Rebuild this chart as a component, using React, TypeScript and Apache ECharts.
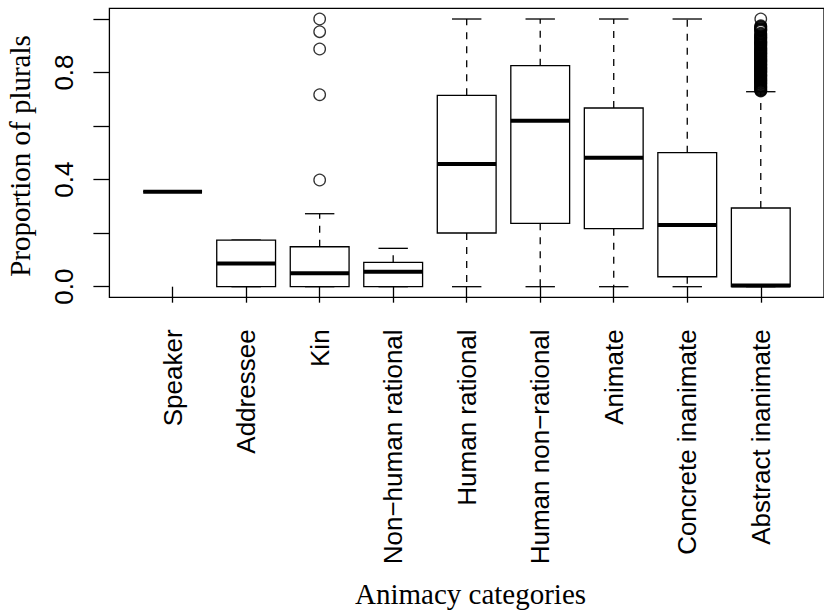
import React, { useEffect, useRef } from "react";
import * as echarts from "echarts";

const categories = [
  "Speaker",
  "Addressee",
  "Kin",
  "Non\u2212human rational",
  "Human rational",
  "Human non\u2212rational",
  "Animate",
  "Concrete inanimate",
  "Abstract inanimate",
];
const whiskerLow = [0.355, 0, 0, 0, 0, 0, 0, 0, 0];
const q1 = [0.355, 0, 0, 0, 0.2005, 0.2367, 0.2166, 0.0372, 0];
const median = [0.355, 0.087, 0.05, 0.0559, 0.4583, 0.62, 0.4818, 0.2304, 0.004];
const q3 = [0.355, 0.1743, 0.1493, 0.091, 0.715, 0.8255, 0.6675, 0.5005, 0.2939];
const whiskerHigh = [0.355, 0.1743, 0.2726, 0.1433, 1, 1, 1, 1, 0.7284];

const kinOutliers = [1.0, 0.9526, 0.888, 0.7172, 0.3986];
const abstractOutliers = [
  0.731, 0.733, 0.735, 0.737, 0.74, 0.742, 0.745, 0.747, 0.75, 0.752, 0.755,
  0.758, 0.76, 0.762, 0.765, 0.767, 0.769, 0.771, 0.773, 0.776, 0.778, 0.781,
  0.783, 0.786, 0.788, 0.79, 0.792, 0.794, 0.797, 0.8, 0.802, 0.804, 0.806,
  0.808, 0.81, 0.812, 0.814, 0.816, 0.818, 0.82, 0.822, 0.825, 0.827, 0.829,
  0.831, 0.833, 0.836, 0.838, 0.84, 0.842, 0.844, 0.846, 0.848, 0.85, 0.852,
  0.854, 0.857, 0.86, 0.862, 0.864, 0.867, 0.869, 0.871, 0.873, 0.875, 0.878,
  0.88, 0.882, 0.884, 0.886, 0.889, 0.891, 0.893, 0.896, 0.9, 0.902, 0.905,
  0.907, 0.909, 0.911, 0.913, 0.915, 0.917, 0.92, 0.923, 0.926, 0.929, 0.931,
  0.933, 0.936, 0.938, 0.941, 0.944, 0.947, 0.955, 0.958, 0.96, 0.962, 0.964,
  0.967, 0.97, 0.972, 0.975, 1.0,
];

const yTicks = [0, 0.2, 0.4, 0.6, 0.8, 1.0];
const yTickLabels = [0, 0.4, 0.8];
const xTitle = "Animacy categories";
const yTitle = "Proportion of plurals";

export default function App() {
  const ref = useRef<HTMLDivElement>(null);
  useEffect(() => {
    if (!ref.current) return;
    const chart = echarts.init(ref.current, undefined, { renderer: "svg" });
    const positions = categories.map((_, i) => i + 1);
    const boxData = positions.map((x, i) => [
      x,
      whiskerLow[i],
      q1[i],
      median[i],
      q3[i],
      whiskerHigh[i],
    ]);
    const outlierData: number[][] = [];
    kinOutliers.forEach((v) => outlierData.push([3, v]));
    abstractOutliers.forEach((v) => outlierData.push([9, v]));
    const LW = 1.3;

    chart.setOption({
      animation: false,
      backgroundColor: "#fff",
      grid: {
        left: 109.4,
        top: 8.3,
        width: 722.2,
        height: 289.1,
        show: true,
        borderColor: "#000",
        borderWidth: LW,
        backgroundColor: "transparent",
      },
      xAxis: {
        type: "value",
        min: 0.14,
        max: 9.86,
        splitLine: { show: false },
        axisLine: { show: false },
        axisTick: {
          show: true,
          length: 16,
          lineStyle: { color: "#000", width: LW },
          customValues: positions,
        },
        axisLabel: {
          show: true,
          rotate: 90,
          margin: 32,
          color: "#000",
          fontFamily: "Liberation Sans",
          fontSize: 26,
          customValues: positions,
          formatter: (v: number) => categories[Math.round(v) - 1] ?? "",
        },
      },
      yAxis: {
        type: "value",
        min: -0.04,
        max: 1.04,
        splitLine: { show: false },
        axisLine: { show: false },
        axisTick: {
          show: true,
          length: 16,
          lineStyle: { color: "#000", width: LW },
          customValues: yTicks,
        },
        axisLabel: {
          show: true,
          rotate: 90,
          margin: 32,
          color: "#000",
          fontFamily: "Liberation Sans",
          fontSize: 26,
          customValues: yTickLabels,
          formatter: (v: number) => v.toFixed(1),
        },
      },
      graphic: [
        {
          type: "text",
          x: 470.5,
          y: 593.5,
          style: {
            text: xTitle,
            fontFamily: "Liberation Serif",
            fontSize: 29,
            fill: "#000",
            textAlign: "center",
            textVerticalAlign: "middle",
          },
        },
        {
          type: "text",
          x: 19.5,
          y: 156,
          rotation: Math.PI / 2,
          style: {
            text: yTitle,
            fontFamily: "Liberation Serif",
            fontSize: 29,
            fill: "#000",
            textAlign: "center",
            textVerticalAlign: "middle",
          },
        },
      ],
      series: [
        {
          type: "custom",
          data: boxData,
          encode: { x: 0, y: [1, 2, 3, 4, 5] },
          renderItem: (params: any, api: any) => {
            const x = api.value(0);
            const lo = api.value(1);
            const a = api.value(2);
            const m = api.value(3);
            const b = api.value(4);
            const hi = api.value(5);
            const half = api.size([0.8, 0])[0] / 2;
            const cap = half / 2;
            const pLo = api.coord([x, lo]);
            const pA = api.coord([x, a]);
            const pM = api.coord([x, m]);
            const pB = api.coord([x, b]);
            const pHi = api.coord([x, hi]);
            const cx = pM[0];
            const solid = { stroke: "#000", lineWidth: LW, fill: "none" };
            const dashed = { stroke: "#000", lineWidth: LW, lineDash: [7, 7], fill: "none" };
            const children: any[] = [];
            if (hi > b) {
              children.push({
                type: "line",
                shape: { x1: cx, y1: pB[1], x2: cx, y2: pHi[1] },
                style: dashed,
              });
            }
            if (lo < a) {
              children.push({
                type: "line",
                shape: { x1: cx, y1: pA[1], x2: cx, y2: pLo[1] },
                style: dashed,
              });
            }
            children.push({
              type: "line",
              shape: { x1: cx - cap, y1: pHi[1], x2: cx + cap, y2: pHi[1] },
              style: solid,
            });
            children.push({
              type: "line",
              shape: { x1: cx - cap, y1: pLo[1], x2: cx + cap, y2: pLo[1] },
              style: solid,
            });
            children.push({
              type: "rect",
              shape: { x: cx - half, y: pB[1], width: half * 2, height: pA[1] - pB[1] },
              style: { stroke: "#000", lineWidth: LW, fill: "#fff" },
            });
            children.push({
              type: "line",
              shape: { x1: cx - half, y1: pM[1], x2: cx + half, y2: pM[1] },
              style: { stroke: "#000", lineWidth: 4, lineCap: "butt" },
            });
            return { type: "group", children };
          },
        },
        {
          type: "scatter",
          data: outlierData,
          symbol: "circle",
          symbolSize: 11.5,
          itemStyle: { color: "transparent", borderColor: "#000", borderWidth: LW },
        },
      ],
    });
    return () => chart.dispose();
  }, []);
  return (
    <div
      ref={ref}
      style={{ position: "fixed", left: 0, top: 0, width: 824, height: 610 }}
    />
  );
}
